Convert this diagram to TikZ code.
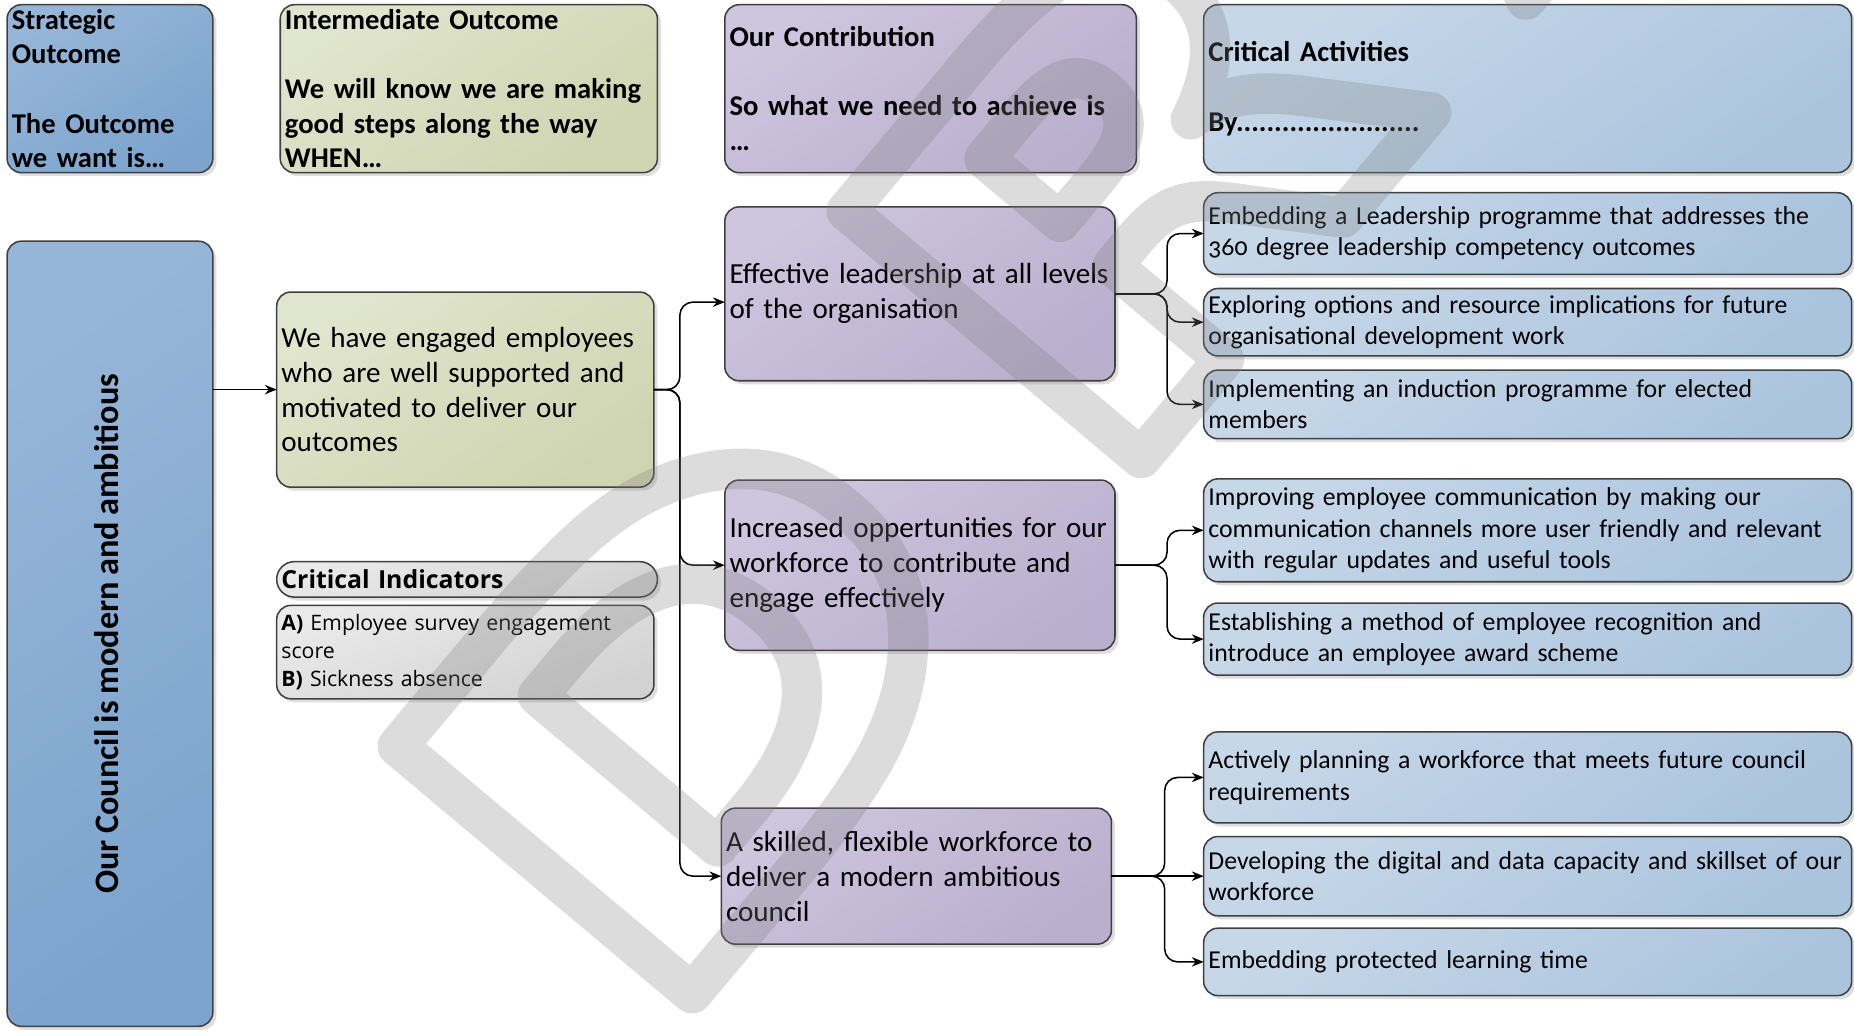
\documentclass[tikz,border=0pt]{standalone}
\usepackage{fontspec}
\setmainfont{Carlito}[WordSpace=0.8]
\newfontfamily\osans{Open Sans}
\newfontfamily\wmfont{DejaVu Sans}[FakeStretch=1.3]
\usetikzlibrary{arrows.meta,shadows,calc}
\hyphenpenalty=10000
\exhyphenpenalty=10000
\definecolor{bordergray}{RGB}{64,64,64}
\definecolor{sblueA}{RGB}{150,182,216}
\definecolor{sblueB}{RGB}{124,164,205}
\definecolor{greenA}{RGB}{224,229,205}
\definecolor{greenB}{RGB}{207,212,177}
\definecolor{purpA}{RGB}{206,197,223}
\definecolor{purpB}{RGB}{186,175,205}
\definecolor{ablueA}{RGB}{198,215,232}
\definecolor{ablueB}{RGB}{171,196,222}
\definecolor{greyA}{RGB}{234,234,234}
\definecolor{greyB}{RGB}{210,210,210}
\definecolor{wmgray}{RGB}{128,128,128}
\newcommand\strokedtext[1]{\special{pdf:literal direct q 1 Tr 34 w 1 j}#1\special{pdf:literal direct Q}}
\newcommand\wmgap{\hspace{110pt}}
\begin{document}
\begin{tikzpicture}[x=1pt,y=-1pt,
  box/.style={draw=bordergray, line width=1.3pt, rounded corners=12pt, align=left,
    inner xsep=4pt, inner ysep=0pt, outer sep=0pt, text=black,
    drop shadow={shadow xshift=3pt, shadow yshift=-3pt, fill=black, opacity=0.13}},
  sblue/.style={top color=sblueA, bottom color=sblueB, shading angle=35},
  green/.style={top color=greenA, bottom color=greenB, shading angle=35},
  purp/.style={top color=purpA, bottom color=purpB, shading angle=35},
  ablue/.style={top color=ablueA, bottom color=ablueB, shading angle=35},
  grey/.style={top color=greyA, bottom color=greyB, shading angle=20},
  hdr/.style={font=\fontsize{24.2}{29.3}\selectfont\bfseries},
  body/.style={font=\fontsize{24.6}{29.5}\selectfont},
  act/.style={font=\fontsize{21.8}{26.6}\selectfont\addfontfeatures{Numbers=OldStyle}},
  conn/.style={draw=black, line width=1.3pt, rounded corners=11pt,
    -{Stealth[length=10pt,width=8pt]}},
]
\useasboundingbox (0,0) rectangle (1568,874);

% header row
\node[box, sblue, hdr, minimum width=174pt, minimum height=142pt, text width=166pt] (strat) at (93,75)
  {Strategic\\Outcome\\\mbox{}\\The Outcome\\we want is…};
\node[box, green, hdr, minimum width=319pt, minimum height=142pt, text width=311pt] (inter) at (396.5,75)
  {Intermediate Outcome\\\mbox{}\\\mbox{We will know we are making}\\good steps along the way\\WHEN…};
\node[box, purp, hdr, minimum width=348pt, minimum height=142pt, text width=340pt] (contrib) at (787,75)
  {Our Contribution\\\mbox{}\\\mbox{So what we need to achieve is}\\…};
\node[box, ablue, hdr, minimum width=548pt, minimum height=142pt, text width=540pt] (critact) at (1292,75)
  {Critical Activities\\\mbox{}\\By........................};

% left column
\node[box, sblue, minimum width=174pt, minimum height=664pt] (big) at (93,536) {};
\node[rotate=90, inner sep=0pt, font=\fontsize{29}{34}\selectfont\bfseries] (bigtext) at (90,536)
  {Our Council is modern and ambitious};

% intermediate column
\node[box, green, body, minimum width=319pt, minimum height=165pt, text width=311pt] (eng) at (393.5,329.5)
  {We have engaged employees\\who are well supported and\\motivated to deliver our\\outcomes};
\node[box, grey, rounded corners=15pt, font=\osans\bfseries\fontsize{21}{25}\selectfont,
  minimum width=322pt, minimum height=30pt, text width=314pt] (ci) at (395,490)
  {Critical Indicators};
\node[box, grey, font=\osans\fontsize{18}{24}\selectfont,
  minimum width=319pt, minimum height=79pt, text width=311pt] (ind) at (393.5,551.5)
  {\textbf{A)} Employee survey engagement\\score\\\textbf{B)} Sickness absence};

% contribution column
\node[box, purp, body, minimum width=330pt, minimum height=147pt, text width=322pt] (p1) at (778,248.5)
  {Effective leadership at all levels\\of the organisation};
\node[box, purp, body, minimum width=330pt, minimum height=144pt, text width=322pt] (p2) at (778,478)
  {Increased oppertunities for our\\workforce to contribute and\\engage effectively};
\node[box, purp, body, minimum width=330pt, minimum height=115pt, text width=322pt] (p3) at (775,741)
  {A skilled, flexible workforce to\\deliver a modern ambitious\\council};

% activities
\node[box, ablue, act, minimum width=548pt, minimum height=69pt, text width=540pt] (a1) at (1292,197.5)
  {Embedding a Leadership programme that addresses the\\360 degree leadership competency outcomes};
\node[box, ablue, act, minimum width=548pt, minimum height=57pt, text width=540pt] (a2) at (1292,272.5)
  {Exploring options and resource implications for future\\organisational development work};
\node[box, ablue, act, minimum width=548pt, minimum height=58pt, text width=540pt] (a3) at (1292,342)
  {Implementing an induction programme for elected\\members};
\node[box, ablue, act, minimum width=548pt, minimum height=87pt, text width=540pt] (b1) at (1292,448.5)
  {Improving employee communication by making our\\\mbox{communication channels more user friendly and relevant}\\with regular updates and useful tools};
\node[box, ablue, act, minimum width=548pt, minimum height=61pt, text width=540pt] (b2) at (1292,540.5)
  {Establishing a method of employee recognition and\\introduce an employee award scheme};
\node[box, ablue, act, minimum width=548pt, minimum height=77pt, text width=540pt] (c1) at (1292,657.5)
  {Actively planning a workforce that meets future council\\requirements};
\node[box, ablue, act, minimum width=548pt, minimum height=67pt, text width=540pt] (c2) at (1292,741)
  {\mbox{Developing the digital and data capacity and skillset of our}\\workforce};
\node[box, ablue, act, minimum width=548pt, minimum height=57pt, text width=540pt] (c3) at (1292,813.5)
  {Embedding protected learning time};

% connectors
\coordinate (tg) at (575,329.5);
\coordinate (t1) at (987,248.5);
\coordinate (t2) at (987,478);
\coordinate (t3) at (985,741);
\draw[conn] (big.east |- eng.west) -- (eng.west);
\draw[conn] (eng.east) -- (tg) |- ([yshift=-7pt]p1.west);
\draw[conn] (eng.east) -- (tg) |- (p2.west);
\draw[conn] (eng.east) -- (tg) |- (p3.west);
\draw[conn] (p1.east) -- (t1) |- (a1.west);
\draw[conn] (p1.east) -- (t1) |- (a2.west);
\draw[conn] (p1.east) -- (t1) |- (a3.west);
\draw[conn] (p2.east) -- (t2) |- (b1.west);
\draw[conn] (p2.east) -- (t2) |- (b2.west);
\draw[conn] (p3.east) -- (t3) |- (c1.west);
\draw[conn] (p3.east) -- (c2.west);
\draw[conn] (p3.east) -- (t3) |- (c3.west);

% watermark
\begin{scope}
\clip (0,0) rectangle (1568,874);
\node[rotate=50, anchor=base west, inner sep=0pt, opacity=0.28, text=wmgray,
  font=\wmfont\bfseries\fontsize{446}{446}\selectfont] (wm) at (551,881)
  {\strokedtext{D\wmgap R\wmgap A\wmgap F\wmgap T}};
\end{scope}
\end{tikzpicture}
\end{document}
